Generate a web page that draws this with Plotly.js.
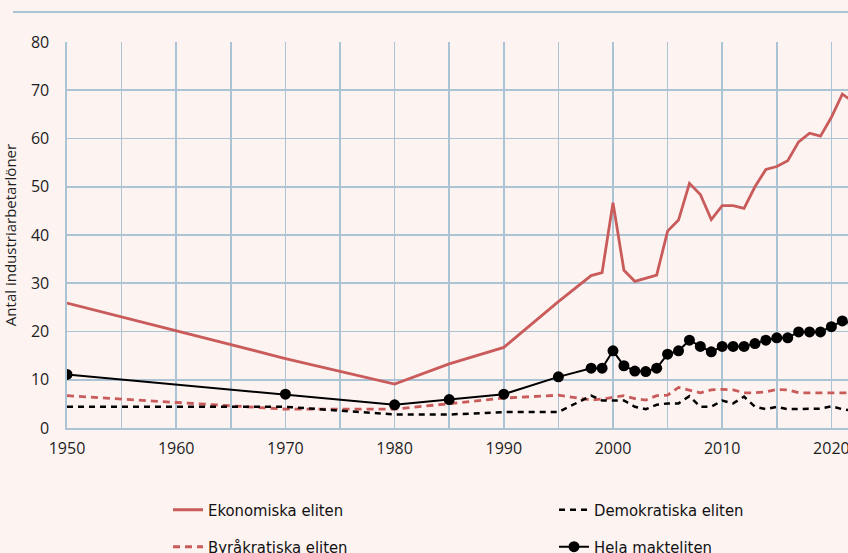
<!DOCTYPE html>
<html><head><meta charset="utf-8">
<script src="https://cdn.plot.ly/plotly-3.0.1.min.js"></script>
<style>html,body{margin:0;padding:0;overflow:hidden;background:#fdf3f1;width:848px;height:553px}</style>
</head><body><div id="chart"></div>
<script>
const years = [1950,1970,1980,1985,1990,1995,1998,1999,2000,2001,2002,2003,2004,2005,2006,2007,2008,2009,2010,2011,2012,2013,2014,2015,2016,2017,2018,2019,2020,2021,2022];
const ekonomiska = [25.9,14.4,9.1,13.3,16.7,26.2,31.6,32.2,46.7,32.7,30.4,31.0,31.7,40.8,43.1,50.7,48.4,43.2,46.1,46.1,45.5,50.0,53.6,54.2,55.4,59.3,61.1,60.5,64.4,69.2,67.6];
const demokratiska = [4.4,4.4,2.8,2.8,3.3,3.3,6.7,5.7,5.7,5.7,4.4,3.9,4.8,5.1,5.1,6.6,4.4,4.4,5.7,5.1,6.5,4.4,3.9,4.4,3.9,3.9,3.9,4.0,4.5,3.9,3.6];
const byrakratiska = [6.7,3.9,3.9,5.1,6.2,6.8,5.8,6.0,6.4,6.7,6.1,5.8,6.7,6.8,8.4,7.9,7.3,7.9,8.0,7.9,7.3,7.3,7.5,8.0,7.9,7.3,7.3,7.3,7.3,7.3,7.3];
const hela = [11.1,7.0,4.8,5.9,7.0,10.6,12.4,12.4,16.0,12.9,11.8,11.7,12.4,15.3,16.0,18.2,16.9,15.8,16.9,16.9,16.9,17.5,18.2,18.7,18.7,19.9,19.9,19.9,21.0,22.2,21.6];
const xTickVals = [1950,1955,1960,1965,1970,1975,1980,1985,1990,1995,2000,2005,2010,2015,2020,2025];
const xTickText = ['1950','','1960','','1970','','1980','','1990','','2000','','2010','','2020',''];
const seriesNames = ['Ekonomiska eliten','Demokratiska eliten','Byråkratiska eliten','Hela makteliten'];
const yTitle = 'Antal industriarbetarlöner';

const W = 900, H = 580, ML = 67, MR = 14, MT = 42, MB = 152;
const PW = W - ML - MR, PH = H - MT - MB;
const px = X => (X - ML) / PW;
const py = Y => (H - MB - Y) / PH;

const RED = '#c95b5b', BLACK = '#000000', GRID = '#abc3d3', BG = '#fdf3f1';
const legendFont = {family: '"DejaVu Sans Condensed", "DejaVu Sans", sans-serif', size: 16.5, color: '#111'};

const traces = [
  {x: years, y: ekonomiska, name: seriesNames[0], mode: 'lines', line: {color: RED, width: 2.8}, legend: 'legend'},
  {x: years, y: byrakratiska, name: seriesNames[2], mode: 'lines', line: {color: RED, width: 2.8, dash: '7px,5px'}, legend: 'legend3'},
  {x: years, y: demokratiska, name: seriesNames[1], mode: 'lines', line: {color: BLACK, width: 2.5, dash: '6px,5px'}, legend: 'legend2'},
  {x: years, y: hela, name: seriesNames[3], mode: 'lines+markers', line: {color: BLACK, width: 2}, marker: {color: BLACK, size: 11}, legend: 'legend4'}
];

function leg(X, Y) {
  return {x: px(X), y: py(Y), xanchor: 'left', yanchor: 'middle', font: legendFont, bgcolor: 'rgba(0,0,0,0)', borderwidth: 0};
}

const layout = {
  width: W, height: H,
  margin: {l: ML, r: MR, t: MT, b: MB, pad: 0},
  paper_bgcolor: BG, plot_bgcolor: BG,
  showlegend: true,
  font: {family: '"Open Sans", sans-serif', color: '#1e1e1e'},
  xaxis: {
    range: [1950, 2025], tickmode: 'array', tickvals: xTickVals, ticktext: xTickText,
    showgrid: true, gridcolor: GRID, gridwidth: 1.6, zeroline: false,
    showline: true, linecolor: GRID, linewidth: 1.6,
    ticks: '', ticklabelstandoff: 5,
    tickfont: {family: '"Open Sans", sans-serif', size: 16, color: '#1e1e1e'}
  },
  yaxis: {
    range: [0, 80], dtick: 10, tick0: 0,
    showgrid: true, gridcolor: GRID, gridwidth: 1.6, zeroline: false,
    showline: true, linecolor: GRID, linewidth: 1.6,
    ticks: '', ticklabelstandoff: 13,
    tickfont: {family: '"Open Sans", sans-serif', size: 16, color: '#1e1e1e'},
    title: {text: yTitle, standoff: 10, font: {family: '"Open Sans", sans-serif', size: 15, color: '#1e1e1e'}}
  },
  shapes: [
    {type: 'line', xref: 'paper', yref: 'paper', x0: px(13), x1: px(W), y0: py(12), y1: py(12), line: {color: GRID, width: 2}}
  ],
  legend: leg(168, 510),
  legend2: leg(554, 510),
  legend3: leg(168, 547),
  legend4: leg(554, 547)
};

Plotly.newPlot('chart', traces, layout, {displayModeBar: false, staticPlot: true});
</script>
</body></html>
